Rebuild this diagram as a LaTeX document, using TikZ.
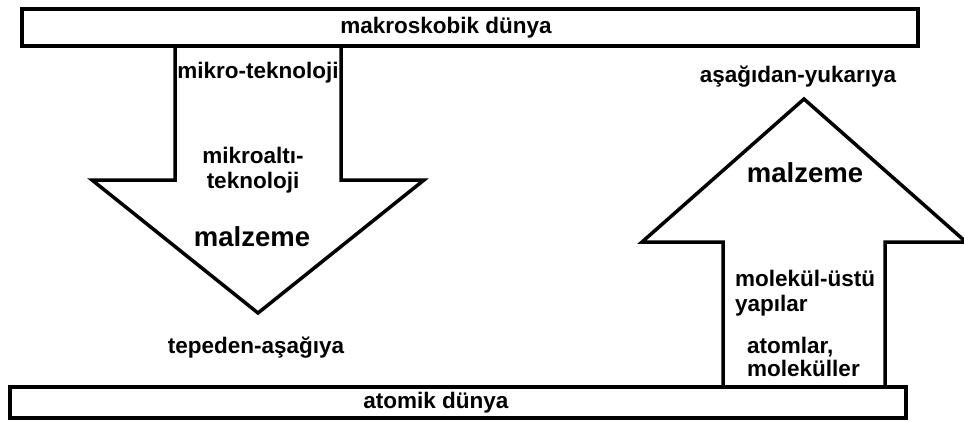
\documentclass[tikz,border=0pt]{standalone}
\usepackage{fontspec}
\setmainfont{Liberation Sans}
\begin{document}
\begin{tikzpicture}[x=1pt,y=-1pt,
  outline/.style={line width=3.5pt,line join=miter},
  worldbox/.style={draw,line width=3.5pt,minimum width=896pt,inner sep=0pt},
  lbl/.style={inner sep=0pt,font=\fontsize{22.5}{25}\selectfont\bfseries},
  biglbl/.style={inner sep=0pt,font=\fontsize{27.5}{30}\selectfont\bfseries}]
\useasboundingbox (0,0) rectangle (964,421);
% world boxes
\node[worldbox,minimum height=37pt] (top) at (470,27.5) {};
\node[worldbox,minimum height=31pt] (bottom) at (458,402.5) {};
\node[lbl] (toptext) at (446,28) {makroskobik dünya};
\node[lbl] (bottext) at (436,403) {atomik dünya};
% down arrow (top-down)
\coordinate (d1) at (175,46);
\coordinate (d7) at (341,46);
\draw[outline] (d1) -- (175,180) -- (92,180) -- (258,313) -- (424,180) -- (341,180) -- (d7);
% up arrow (bottom-up)
\coordinate (u1) at (723,386);
\coordinate (u7) at (885,386);
\draw[outline] (u1) -- (723,242) -- (642,242) -- (804,99) -- (966,242) -- (885,242) -- (u7);
% labels of the down arrow
\node[lbl] (mt) at (258,73) {mikro-teknoloji};
\node[lbl,align=center] (mat) at (253,170) {mikroaltı-\\teknoloji};
\node[biglbl] (mz1) at (252,237) {malzeme};
\node[lbl] (td) at (256,348) {tepeden-aşağıya};
% labels of the up arrow
\node[lbl] (ay) at (798,77) {aşağıdan-yukarıya};
\node[biglbl] (mz2) at (805,173) {malzeme};
\node[lbl,align=left,anchor=west] (mu) at (735,293) {molekül-üstü\\yapılar};
\node[lbl,align=left,anchor=west,font=\fontsize{22.5}{23}\selectfont\bfseries] (am) at (747,357) {atomlar,\\moleküller};
\end{tikzpicture}
\end{document}
